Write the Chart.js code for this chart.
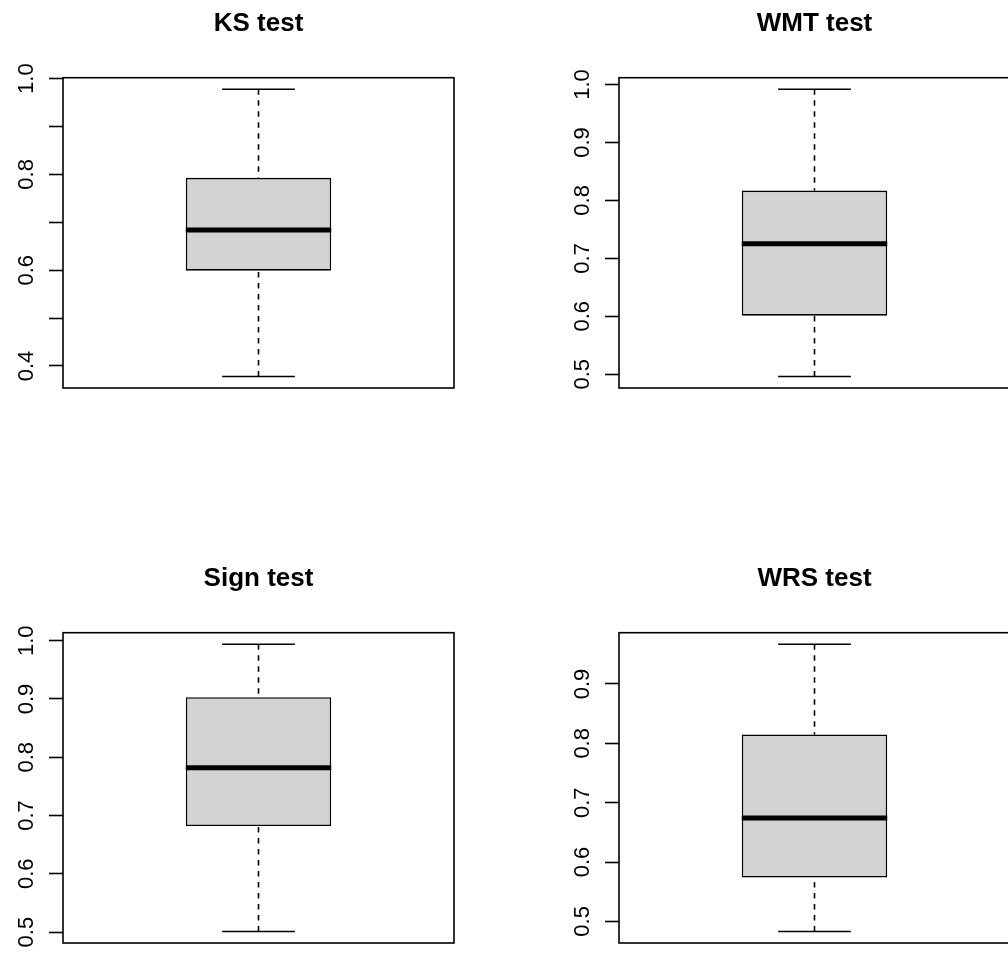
<!DOCTYPE html>
<html>
<head>
<meta charset="utf-8">
<title>Test boxplots</title>
<script src="https://cdn.jsdelivr.net/npm/chart.js@4.4.1/dist/chart.umd.min.js"></script>
<style>
  html, body { margin: 0; padding: 0; background: #fff; overflow: hidden; width: 1008px; height: 954px; }
  canvas { position: absolute; }
</style>
</head>
<body>
<canvas id="c0" width="504" height="477" style="left:0px;top:0px"></canvas>
<canvas id="c1" width="504" height="477" style="left:556px;top:0px"></canvas>
<canvas id="c2" width="504" height="477" style="left:0px;top:555px"></canvas>
<canvas id="c3" width="504" height="477" style="left:556px;top:555px"></canvas>
<script>
// values
const panelTitles = ["KS test", "WMT test", "Sign test", "WRS test"];
const whiskerLow  = [0.378, 0.496, 0.501, 0.483];
const boxLow      = [0.599, 0.601, 0.682, 0.574];
const medians     = [0.684, 0.725, 0.782, 0.674];
const boxHigh     = [0.793, 0.817, 0.903, 0.815];
const whiskerHigh = [0.978, 0.992, 0.994, 0.967];

// y axis ticks (R drops labels that would overlap)
const tickValues = [
    [0.4, 0.5, 0.6, 0.7, 0.8, 0.9, 1.0],
    [0.5, 0.6, 0.7, 0.8, 0.9, 1.0],
    [0.5, 0.6, 0.7, 0.8, 0.9, 1.0],
    [0.5, 0.6, 0.7, 0.8, 0.9]
];
const tickLabels = [
    ["0.4", "", "0.6", "", "0.8", "", "1.0"],
    ["0.5", "0.6", "0.7", "0.8", "0.9", "1.0"],
    ["0.5", "0.6", "0.7", "0.8", "0.9", "1.0"],
    ["0.5", "0.6", "0.7", "0.8", "0.9"]
];

Chart.defaults.font.family = "'Liberation Sans', Arial, Helvetica, sans-serif";
Chart.defaults.color = "#000";

// frame around the plot region, like R's box()
const framePlugin = {
    id: "frame",
    afterDraw(chart) {
        const a = chart.chartArea;
        const ctx = chart.ctx;
        ctx.save();
        ctx.strokeStyle = "#000";
        ctx.lineWidth = 1.6;
        ctx.strokeRect(a.left, a.top, a.right - a.left, a.bottom - a.top);
        ctx.restore();
    }
};

// whiskers, caps and median, placed through the chart's own scales
const boxPlugin = {
    id: "boxParts",
    afterDatasetsDraw(chart, args, opts) {
        const bar = chart.getDatasetMeta(0).data[0];
        if (!bar) return;
        const y = chart.scales.y;
        const ctx = chart.ctx;
        const cx = bar.x;
        const half = bar.width / 2;
        const capHalf = half / 2;
        const yBoxLo = y.getPixelForValue(opts.q1);
        const yBoxHi = y.getPixelForValue(opts.q3);
        const yLo = y.getPixelForValue(opts.lo);
        const yHi = y.getPixelForValue(opts.hi);
        const yMed = y.getPixelForValue(opts.med);

        ctx.save();
        ctx.strokeStyle = "#000";

        // dashed whiskers
        ctx.lineWidth = 1.6;
        ctx.setLineDash([5.5, 5.5]);
        ctx.beginPath();
        ctx.moveTo(cx, yHi);
        ctx.lineTo(cx, yBoxHi);
        ctx.moveTo(cx, yLo);
        ctx.lineTo(cx, yBoxLo);
        ctx.stroke();

        // caps
        ctx.setLineDash([]);
        ctx.beginPath();
        ctx.moveTo(cx - capHalf, yHi);
        ctx.lineTo(cx + capHalf, yHi);
        ctx.moveTo(cx - capHalf, yLo);
        ctx.lineTo(cx + capHalf, yLo);
        ctx.stroke();

        // median
        ctx.lineWidth = 5;
        ctx.beginPath();
        ctx.moveTo(cx - half, yMed);
        ctx.lineTo(cx + half, yMed);
        ctx.stroke();
        ctx.restore();
    }
};

function makePanel(i) {
    const lo = whiskerLow[i], hi = whiskerHigh[i];
    const pad = (hi - lo) * 0.04; // R's default axis extension
    const labels = tickLabels[i];
    const values = tickValues[i];

    new Chart(document.getElementById("c" + i), {
        type: "bar",
        data: {
            labels: [""],
            datasets: [{
                data: [[boxLow[i], boxHigh[i]]],
                backgroundColor: "#d3d3d3",
                borderColor: "#000",
                borderWidth: 1.6,
                borderSkipped: false,
                barPercentage: 0.372,
                categoryPercentage: 1
            }]
        },
        options: {
            responsive: false,
            animation: false,
            devicePixelRatio: 1,
            layout: { padding: { left: 0, right: 50, top: 0, bottom: 89 } },
            plugins: {
                legend: { display: false },
                tooltip: { enabled: false },
                title: {
                    display: true,
                    text: panelTitles[i],
                    fullSize: false,
                    font: { size: 26, weight: "bold" },
                    color: "#000",
                    padding: { top: 8, bottom: 38.5 }
                },
                boxParts: { q1: boxLow[i], q3: boxHigh[i], med: medians[i], lo: lo, hi: hi }
            },
            scales: {
                x: { display: false },
                y: {
                    min: lo - pad,
                    max: hi + pad,
                    afterBuildTicks: (s) => { s.ticks = values.map(v => ({ value: v })); },
                    afterFit: (s) => { s.width = 63; },
                    border: { display: false },
                    grid: {
                        drawOnChartArea: false,
                        drawTicks: true,
                        tickLength: 14,
                        tickColor: "#000",
                        tickWidth: 1.6
                    },
                    ticks: {
                        autoSkip: false,
                        minRotation: 90,
                        maxRotation: 90,
                        crossAlign: "center",
                        padding: 7,
                        color: "#000",
                        font: { size: 22 },
                        callback: (v, idx) => labels[idx]
                    }
                }
            }
        },
        plugins: [boxPlugin, framePlugin]
    });
}

for (let i = 0; i < 4; i++) makePanel(i);
</script>
</body>
</html>
